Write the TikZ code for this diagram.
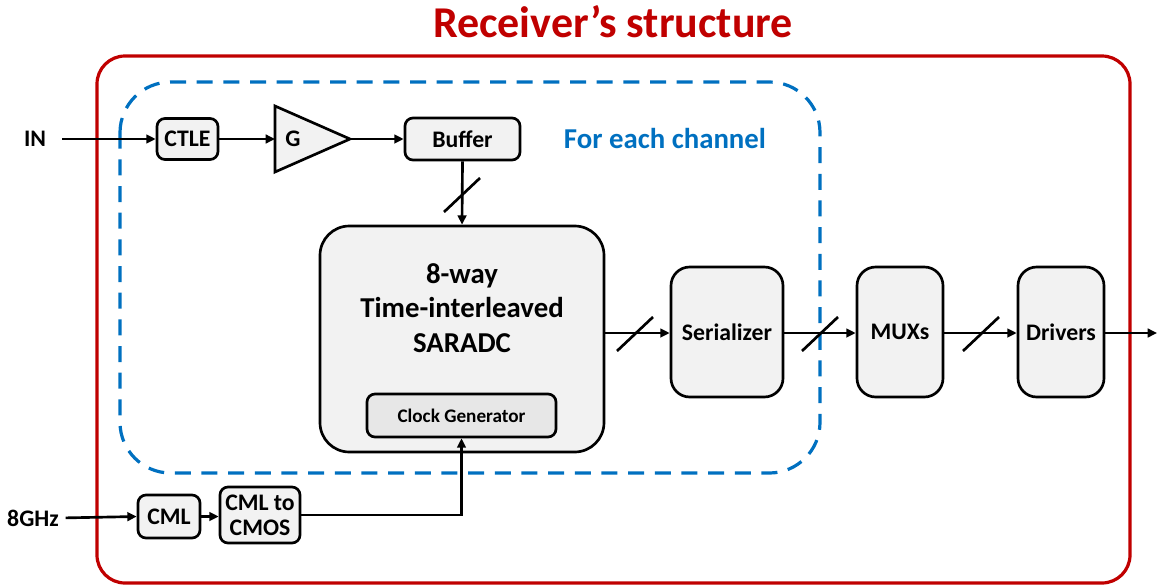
\documentclass[tikz,border=0pt]{standalone}
\usepackage{fontspec}
\setmainfont{Carlito}
\usetikzlibrary{arrows.meta,calc}
\definecolor{redc}{RGB}{192,0,0}
\definecolor{bluec}{RGB}{0,112,192}
\definecolor{boxfill}{RGB}{242,242,242}
\definecolor{clkfill}{RGB}{231,231,231}
\begin{document}
\begin{tikzpicture}[x=0.75pt,y=-0.75pt,
  sz/.style 2 args={minimum width=#1*0.75pt, minimum height=#2*0.75pt},
  blk/.style={draw=black, line width=2pt, fill=boxfill, rounded corners=6pt, inner sep=0pt, align=center, font=\bfseries\fontsize{17.8}{19}\selectfont},
  bigblk/.style={blk, rounded corners=14pt},
  lbl/.style={inner sep=0pt, font=\bfseries\fontsize{17.8}{19}\selectfont},
  wire/.style={line width=2pt},
  arr/.style={wire, -{Triangle[length=7pt,width=6.5pt]}},
]
\useasboundingbox (0,0) rectangle (1157,586);

% frames
\draw[redc, line width=2.4pt, rounded corners=21pt] (97,56) rectangle (1130,583);
\draw[bluec, line width=2.4pt, dash pattern=on 12pt off 8pt, rounded corners=38pt] (120,82) rectangle (820,473);

% title and labels
\node[font=\bfseries\fontsize{33}{36}\selectfont, text=redc, inner sep=0pt] (title) at (613,22) {Receiver’s structure};
\node[font=\bfseries\fontsize{21.6}{24}\selectfont, text=bluec, inner sep=0pt] (chan) at (665,138) {For each channel};

\node[lbl] (in) at (35,139) {IN};
\node[lbl] (ghz) at (33,518) {8GHz};

% top row
\node[blk, sz={61}{41}] (ctle) at (187.5,139) {CTLE};
\draw[wire, fill=boxfill, line join=miter] (275,106) -- (350,139) -- (275,172) -- cycle;
\coordinate (gin) at (275,139);
\coordinate (gout) at (350,139);
\node[lbl] (g) at (293,139) {G};
\node[blk, sz={115}{42}] (buf) at (462.5,139) {Buffer};

% ADC
\node[blk, rounded corners=22pt, sz={284}{226}] (adc) at (462,339) {};
\node[inner sep=0pt, align=center, font=\bfseries\fontsize{21.6}{26}\selectfont] (adctxt) at (462,308) {8-way\\Time-interleaved\\SARADC};
\node[blk, fill=clkfill, sz={189}{43}, font=\bfseries\fontsize{14.4}{16}\selectfont] (clk) at (461.5,415.5) {Clock Generator};

% right chain
\node[bigblk, sz={112}{130}] (ser) at (727,332) {Serializer};
\node[bigblk, sz={86}{130}] (mux) at (900,332) {MUXs};
\node[bigblk, sz={86}{130}] (drv) at (1061,332) {Drivers};
\coordinate (out) at (1157,333);

% clock chain
\node[blk, sz={62}{43}] (cml) at (169,516.5) {CML};
\node[blk, sz={80}{56}] (cmos) at (260,515) {CML to\\CMOS};

% connectors
\draw[arr, shorten <=12pt] (in.east) -- (ctle.west);
\draw[arr] (ctle.east) -- (gin);
\draw[arr] (gout) -- (buf.west);
\draw[arr] (buf.south) -- (adc.north);
\draw[arr] (adc.east |- 0,333) -- (ser.west |- 0,333);
\draw[arr] (ser.east |- 0,333) -- (mux.west |- 0,333);
\draw[arr] (mux.east |- 0,333) -- (drv.west |- 0,333);
\draw[arr] (drv.east |- 0,333) -- (out);
\draw[arr, shorten <=5pt] (ghz.east) -- (cml.west);
\draw[arr] (cml.east) -- (cmos.west |- cml.east);
\draw[arr] (cmos.east) -| (clk.south);

% bus slashes
\coordinate (s0) at (462,195);
\coordinate (s1) at (635,334);
\coordinate (s2) at (820,334);
\coordinate (s3) at (981,334);
\foreach \s in {s0,s1,s2,s3}
  \draw[wire] ([shift={(-18,17)}]\s) -- ([shift={(18,-17)}]\s);
\end{tikzpicture}
\end{document}
